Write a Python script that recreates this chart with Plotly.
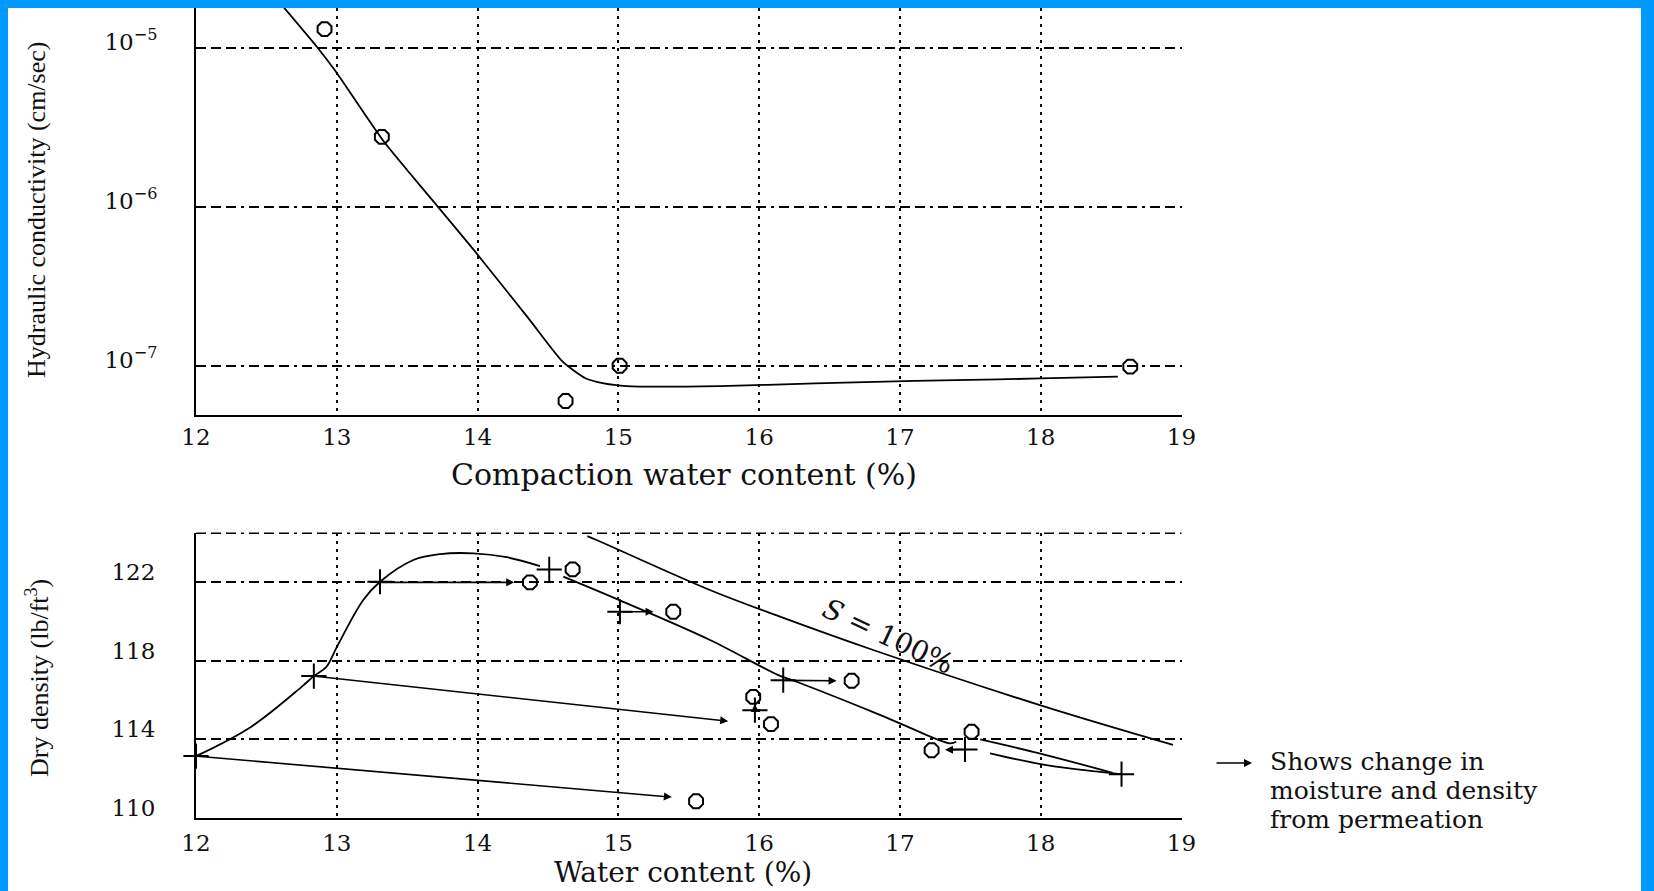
import plotly.graph_objects as go

# ---------------- top panel: hydraulic conductivity ----------------
k_curve_w = [12.62, 12.864, 12.994, 13.326, 13.679, 13.973, 14.359, 14.604, 14.766,
             14.897, 15.059, 15.722, 16.398, 17.105, 17.695, 18.313, 18.548]
k_curve = [1.81e-5, 1.0e-5, 7.06e-6, 2.63e-6, 1.10e-6, 5.35e-7, 2.0e-7, 1.06e-7, 8.34e-8,
           7.74e-8, 7.45e-8, 7.45e-8, 7.74e-8, 8.02e-8, 8.20e-8, 8.45e-8, 8.53e-8]
k_obs_w = [12.913, 13.32, 14.625, 15.009, 18.636]
k_obs = [1.31e-5, 2.75e-6, 6.0e-8, 1.0e-7, 0.986e-7]

k_tickvals = [1e-7, 1e-6, 1e-5]
k_ticktext = ["10<sup>−7</sup>", "10<sup>−6</sup>", "10<sup>−5</sup>"]
w_ticks = [12, 13, 14, 15, 16, 17, 18, 19]

# ---------------- bottom panel: dry density ----------------
dry_side_w = [12.0, 12.39, 12.75, 12.837, 12.926, 13.0, 13.188, 13.307, 13.544, 13.733, 13.97, 14.207, 14.443]
dry_side_d = [113.14, 114.63, 116.67, 117.22, 117.69, 118.7, 121.10, 122.03, 123.14, 123.44, 123.48, 123.28, 122.83]

wet_side_w = [14.609, 15.011, 15.651, 16.136, 16.266, 16.858, 17.0, 17.355, 17.40,
              None, 17.64, 18.04, 18.42, 18.574]
wet_side_d = [122.29, 121.08, 119.06, 117.27, 116.93, 115.24, 114.81, 113.79, 113.87,
              None, 113.28, 112.68, 112.34, 112.22]

tail_w = [17.57, 17.99, 18.51]
tail_d = [113.99, 113.28, 112.29]

sat_w = [14.78, 14.846, 15.65, 16.148, 16.81, 17.994, 18.94]
sat_d = [124.36, 124.16, 121.61, 120.25, 118.55, 115.74, 113.71]

plus_w = [12.0, 12.837, 13.307, 14.509, 15.011, 16.171, 15.97, 17.462, 18.574]
plus_d = [113.14, 117.22, 122.03, 122.66, 120.50, 117.01, 115.48, 113.48, 112.22]

after_w = [14.372, 14.675, 15.39, 16.657, 15.958, 16.084, 17.225, 17.509, 15.552]
after_d = [122.0, 122.66, 120.50, 116.98, 116.16, 114.77, 113.44, 114.38, 110.84]

# permeation arrows: tail (w, d) -> head (w, d)
arr_tail_w = [13.307, 12.837, 12.0, 15.011, 16.171, 15.97, 17.462]
arr_tail_d = [122.0, 117.22, 113.14, 120.50, 117.0, 115.48, 113.48]
arr_head_w = [14.26, 15.78, 15.38, 15.25, 16.55, 15.97, 17.32]
arr_head_d = [122.0, 114.92, 111.05, 120.50, 116.98, 115.80, 113.46]

d_tickvals = [110, 114, 118, 122]
d_ticktext = ["110", "114", "118", "122"]

key_lines = ["Shows change in", "moisture and density", "from permeation"]

W, H = 1654, 891
XDOM = [196 / W, 1181.5 / W]
TOP_DOM = [1 - 415 / H, 1 - 8 / H]
BOT_DOM = [1 - 817.7 / H, 1 - 533.3 / H]

SERIF = "DejaVu Serif"
TXT = "#111111"
HDASH = "10px,5px,10px,5px,10px,5px,3px,5px"
VDOT = "3px,5px"

fig = go.Figure()

# top panel
fig.add_trace(go.Scatter(x=k_curve_w, y=k_curve, mode="lines", line=dict(color="black", width=1.8, shape="spline", smoothing=0.6),
                         xaxis="x", yaxis="y", showlegend=False, hoverinfo="skip"))
fig.add_trace(go.Scatter(x=k_obs_w, y=k_obs, mode="markers",
                         marker=dict(symbol="octagon-open", size=15, color="black", line=dict(width=2, color="black")),
                         xaxis="x", yaxis="y", showlegend=False))

# bottom panel
line_style = dict(color="black", width=1.8, shape="spline", smoothing=1.0)
fig.add_trace(go.Scatter(x=dry_side_w, y=dry_side_d, mode="lines", line=line_style, xaxis="x2", yaxis="y2", showlegend=False))
fig.add_trace(go.Scatter(x=wet_side_w, y=wet_side_d, mode="lines", line=line_style, connectgaps=False, xaxis="x2", yaxis="y2", showlegend=False))
fig.add_trace(go.Scatter(x=tail_w, y=tail_d, mode="lines", line=line_style, xaxis="x2", yaxis="y2", showlegend=False))
fig.add_trace(go.Scatter(x=sat_w, y=sat_d, mode="lines", line=line_style, xaxis="x2", yaxis="y2", showlegend=False))
fig.add_trace(go.Scatter(x=plus_w, y=plus_d, mode="markers", cliponaxis=False,
                         marker=dict(symbol="cross-thin-open", size=18, color="black", line=dict(width=2, color="black")),
                         xaxis="x2", yaxis="y2", showlegend=False))
fig.add_trace(go.Scatter(x=after_w, y=after_d, mode="markers",
                         marker=dict(symbol="octagon-open", size=15, color="black", line=dict(width=2, color="black")),
                         xaxis="x2", yaxis="y2", showlegend=False))

annotations = []
for tw, td, hw, hd in zip(arr_tail_w, arr_tail_d, arr_head_w, arr_head_d):
    annotations.append(dict(x=hw, y=hd, ax=tw, ay=td, xref="x2", yref="y2", axref="x2", ayref="y2",
                            text="", showarrow=True, arrowhead=2, arrowsize=1.0, arrowwidth=1.6, arrowcolor="black"))

annotations.append(dict(x=16.92, y=119.25, xref="x2", yref="y2", text="<i>S</i> = 100%", showarrow=False,
                        xanchor="center", yanchor="middle",
                        textangle=25, font=dict(family=SERIF, size=28, color=TXT)))

# axis titles
def title(txt, px, py, size, angle=0, family=SERIF):
    return dict(x=px / W, y=1 - py / H, xref="paper", yref="paper", text=txt, showarrow=False,
                xanchor="center", yanchor="middle", textangle=angle,
                font=dict(family=family, size=size, color=TXT))

annotations.append(title("Compaction water content (%)", 684, 474, 30))
annotations.append(title("Water content (%)", 683, 872, 28))
annotations.append(title("Hydraulic conductivity (cm/sec)", 36, 210, 26, -90, "Liberation Serif"))
annotations.append(title("Dry density (lb/ft<sup>3</sup>)", 37, 678, 26, -90, "Liberation Serif"))

# key
annotations.append(dict(x=1252 / W, y=1 - 763 / H, xref="paper", yref="paper", ax=-37, ay=0, text="",
                        showarrow=True, arrowhead=2, arrowsize=1.0, arrowwidth=1.6, arrowcolor="black"))
for txt, yy in zip(key_lines, [761, 790, 819]):
    annotations.append(dict(x=1268 / W, y=1 - yy / H, xref="paper", yref="paper", text=txt, showarrow=False,
                            xanchor="left", yanchor="middle", font=dict(family=SERIF, size=25, color=TXT)))

xaxis_common = dict(range=[12, 19], domain=XDOM, tickmode="array", tickvals=w_ticks,
                    showline=True, linecolor="black", linewidth=2, ticks="",
                    showgrid=True, gridcolor="black", gridwidth=2, griddash=VDOT, zeroline=False,
                    tickfont=dict(family=SERIF, size=23, color=TXT), fixedrange=True)

fig.update_layout(
    width=W, height=H,
    margin=dict(l=0, r=0, t=0, b=0, autoexpand=False),
    paper_bgcolor="white", plot_bgcolor="white",
    xaxis=dict(**xaxis_common, anchor="y", ticklabelstandoff=0),
    yaxis=dict(type="log", range=[-7.310, -4.750], domain=TOP_DOM, anchor="x",
               tickmode="array", tickvals=k_tickvals, ticktext=k_ticktext,
               showline=True, linecolor="black", linewidth=2, ticks="",
               showgrid=True, gridcolor="black", gridwidth=1.5, griddash=HDASH, zeroline=False,
               ticklabelstandoff=32, ticklabelshift=-6,
               tickfont=dict(family=SERIF, size=23, color=TXT)),
    xaxis2=dict(**xaxis_common, anchor="y2", ticklabelstandoff=4),
    yaxis2=dict(range=[110, 124.5], domain=BOT_DOM, anchor="x2",
                tickmode="array", tickvals=d_tickvals, ticktext=d_ticktext,
                showline=True, linecolor="black", linewidth=2, ticks="",
                showgrid=True, gridcolor="black", gridwidth=1.5, griddash=HDASH, zeroline=False,
                ticklabelstandoff=34, ticklabelshift=-10,
                tickfont=dict(family=SERIF, size=23, color=TXT)),
    annotations=annotations,
    shapes=[
        # dash-dot frame line along the top of the lower panel
        dict(type="line", xref="x2 domain", yref="y2 domain", x0=0, x1=1, y0=1, y1=1,
             line=dict(color="black", width=1.5, dash=HDASH), layer="below"),
        dict(type="rect", xref="paper", yref="paper", x0=0, x1=8 / W, y0=0, y1=1, fillcolor="#0099FF", line=dict(width=0), layer="above"),
        dict(type="rect", xref="paper", yref="paper", x0=0, x1=1, y0=1 - 8 / H, y1=1, fillcolor="#0099FF", line=dict(width=0), layer="above"),
        dict(type="rect", xref="paper", yref="paper", x0=1641 / W, x1=1, y0=0, y1=1, fillcolor="#0099FF", line=dict(width=0), layer="above"),
    ],
)

fig.write_html("out.html", config={"displayModeBar": False},
               post_script="document.body.style.margin='0px';document.body.style.overflow='hidden';")
